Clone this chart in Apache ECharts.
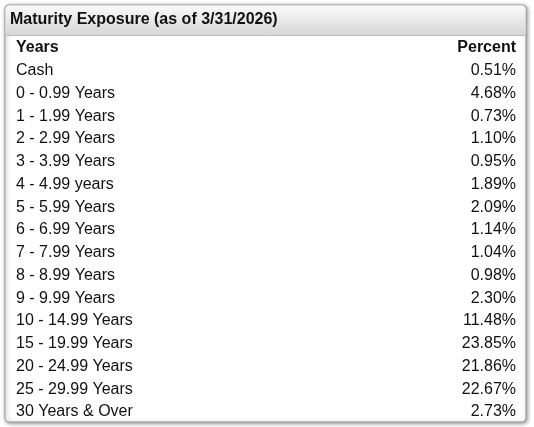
<!DOCTYPE html>
<html><head><meta charset="utf-8">
<script src="https://cdn.jsdelivr.net/npm/echarts@6/dist/echarts.min.js"></script>
<style>html,body{margin:0;padding:0;background:#fff}#c{width:534px;height:427px}</style>
</head><body><div id="c"></div>
<script>
var title = 'Maturity Exposure (as of 3/31/2026)';
var headers = ['Years', 'Percent'];
var years = ['Cash', '0 - 0.99 Years', '1 - 1.99 Years', '2 - 2.99 Years', '3 - 3.99 Years', '4 - 4.99 years',
    '5 - 5.99 Years', '6 - 6.99 Years', '7 - 7.99 Years', '8 - 8.99 Years', '9 - 9.99 Years',
    '10 - 14.99 Years', '15 - 19.99 Years', '20 - 24.99 Years', '25 - 29.99 Years', '30 Years & Over'];
var percents = [0.51, 4.68, 0.73, 1.10, 0.95, 1.89, 2.09, 1.14, 1.04, 0.98, 2.30, 11.48, 23.85, 21.86, 22.67, 2.73];

var chart = echarts.init(document.getElementById('c'));
var font = '"Liberation Sans", Arial, sans-serif';
var els = [];
// frame
els.push({type: 'rect', shape: {x: 5, y: 5, width: 521, height: 417, r: 4},
    style: {fill: '#fff', stroke: '#9a9a9a', lineWidth: 1, shadowBlur: 4, shadowColor: 'rgba(0,0,0,0.45)', shadowOffsetX: 1, shadowOffsetY: 1}});
els.push({type: 'rect', shape: {x: 5.5, y: 5.5, width: 520, height: 30, r: [4, 4, 0, 0]},
    style: {fill: new echarts.graphic.LinearGradient(0, 0, 0, 1, [{offset: 0, color: '#fafafa'}, {offset: 1, color: '#d6d6d6'}])}});
els.push({type: 'line', shape: {x1: 5, y1: 35.5, x2: 526, y2: 35.5}, style: {stroke: '#bbb', lineWidth: 1}});
els.push({type: 'text', x: 10, y: 20, style: {text: title, font: 'bold 16px ' + font, fill: '#111', verticalAlign: 'middle'}});

var rowY = function (i) { return 48 + i * 22.75; };
els.push({type: 'text', x: 16, y: rowY(0), style: {text: headers[0], font: 'bold 16px ' + font, fill: '#111', verticalAlign: 'middle'}});
els.push({type: 'text', x: 516, y: rowY(0), style: {text: headers[1], font: 'bold 16px ' + font, fill: '#111', verticalAlign: 'middle', align: 'right'}});
for (var i = 0; i < years.length; i++) {
    els.push({type: 'text', x: 16, y: rowY(i + 1), style: {text: years[i], font: '16px ' + font, fill: '#111', verticalAlign: 'middle'}});
    els.push({type: 'text', x: 516, y: rowY(i + 1), style: {text: percents[i].toFixed(2) + '%', font: '16px ' + font, fill: '#111', verticalAlign: 'middle', align: 'right'}});
}
chart.setOption({animation: false, graphic: {elements: els}});
</script></body></html>
